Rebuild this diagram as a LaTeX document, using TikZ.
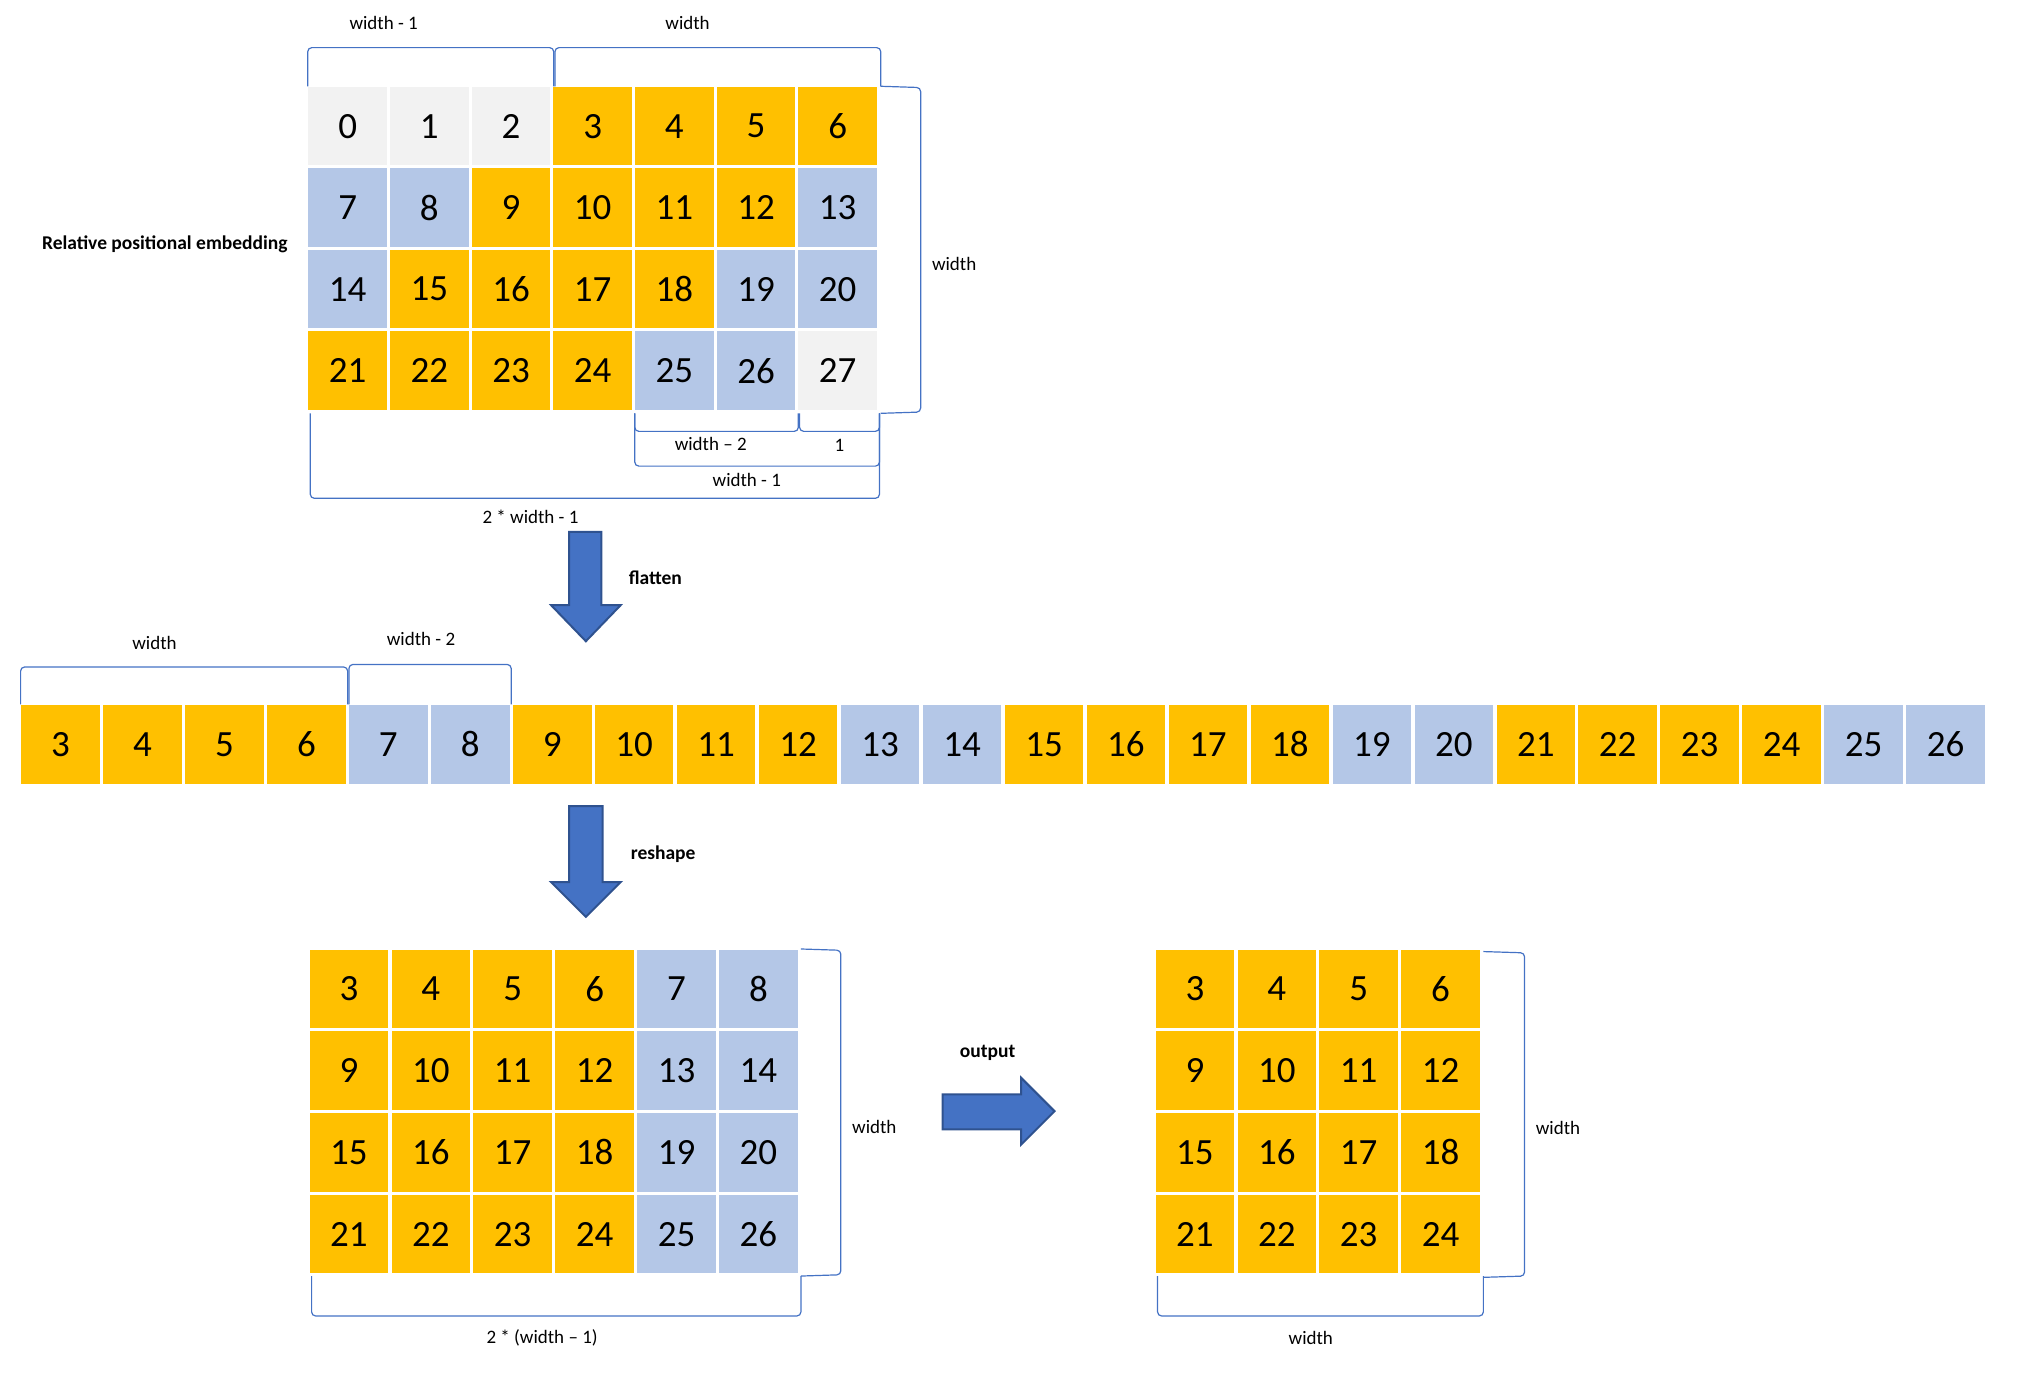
\documentclass[tikz,border=0pt]{standalone}
\usepackage{fontspec}
\setmainfont{Carlito}
\definecolor{cg}{HTML}{F2F2F2}
\definecolor{co}{HTML}{FFC000}
\definecolor{cb}{HTML}{B4C7E7}
\definecolor{bl}{HTML}{4472C4}
\definecolor{bd}{HTML}{2F528F}
\tikzset{
  cell/.style={minimum width=78.5pt,minimum height=78.5pt,inner sep=0pt,anchor=center,
    font=\fontsize{37}{40}\selectfont},
  brk/.style={draw=bl,line width=1.2pt,rounded corners=4pt},
  lbl/.style={font=\fontsize{19}{22}\selectfont,inner sep=0pt},
  blbl/.style={font=\bfseries\fontsize{19.5}{22}\selectfont,inner sep=0pt},
  bigarrow/.style={fill=bl,draw=bd,line width=2pt,line join=miter}
}
\begin{document}
\begin{tikzpicture}[x=1.2876pt,y=-1.2876pt]
\useasboundingbox (0,0) rectangle (1568,1073);
% ---------- top grid ----------
\foreach \c [count=\i from 0] in {cg,cg,cg,co,co,co,co,
                                  cb,cb,co,co,co,co,cb,
                                  cb,co,co,co,co,cb,cb,
                                  co,co,co,co,cb,cb,cg}{
  \pgfmathtruncatemacro\r{floor(\i/7)}
  \pgfmathtruncatemacro\cc{\i-7*\r}
  \node[cell,fill=\c] (t-\r-\cc) at ({270+63.43*\cc},{98+63.3*\r}) {\i};
}
\node[blbl] (rpe) at (128,190) {Relative positional embedding};
% braces around top grid
\draw[brk] (239,67) -- (239,37) -- (430,37) -- (430,67);
\draw[brk] (431,67) -- (431,37) -- (684,37) -- (684,67);
\node[lbl] (tw1) at (298,18) {width - 1};
\node[lbl] (tw) at (534,18) {width};
\draw[brk] (684,67) -- (715,68) -- (715,320) -- (684,321);
\node[lbl] (tr) at (741,205) {width};
\draw[brk] (493,321) -- (493,335) -- (620,335) -- (620,321);
\draw[brk] (621,321) -- (621,335) -- (683,335) -- (683,321);
\draw[brk] (493,321) -- (493,362) -- (683,362) -- (683,321);
\draw[brk] (241,321) -- (241,387) -- (683,387) -- (683,321);
\node[lbl] (bw2) at (552,345) {width – 2};
\node[lbl] (b1) at (652,346) {1};
\node[lbl] (bw1) at (580,373) {width - 1};
\node[lbl] (b2w) at (412,401) {2 * width - 1};
% flatten arrow
\draw[bigarrow] (442,413) -- (467,413) -- (467,470) -- (482,470) -- (455,498) -- (428,470) -- (442,470) -- cycle;
\node[blbl] (fl) at (509,449) {flatten};
% ---------- flattened row ----------
\foreach \c [count=\i from 0] in {co,co,co,co,cb,cb,co,co,co,co,cb,cb,
                                  co,co,co,co,cb,cb,co,co,co,co,cb,cb}{
  \pgfmathtruncatemacro\v{\i+3}
  \node[cell,fill=\c] (f-\i) at ({47+63.65*\i},578) {\v};
}
\draw[brk] (16,547) -- (16,518) -- (270,518) -- (270,547);
\draw[brk] (271,547) -- (271,516) -- (397,516) -- (397,547);
\node[lbl] (fw) at (120,499) {width};
\node[lbl] (fw2) at (327,496) {width - 2};
% reshape arrow
\draw[bigarrow] (442,626) -- (468,626) -- (468,685) -- (482,685) -- (455,712) -- (428,685) -- (442,685) -- cycle;
\node[blbl] (rs) at (515,663) {reshape};
% ---------- reshaped grid ----------
\foreach \r in {0,...,3}{
  \foreach \cc in {0,...,5}{
    \pgfmathtruncatemacro\v{3+6*\r+\cc}
    \ifnum\cc<4 \def\col{co}\else\def\col{cb}\fi
    \node[cell,fill=\col] (b-\r-\cc) at ({271+63.6*\cc},{768+63.5*\r}) {\v};
  }
}
\draw[brk] (622,737) -- (653,738) -- (653,990) -- (622,991);
\draw[brk] (242,991) -- (242,1022) -- (622,1022) -- (622,991);
\node[lbl] (rw) at (679,875) {width};
\node[lbl] (rb) at (421,1039) {2 * (width – 1)};
% output arrow
\draw[bigarrow] (732,850) -- (793,850) -- (793,837) -- (819,863) -- (793,889) -- (793,877) -- (732,877) -- cycle;
\node[blbl] (out) at (767,818) {output};
% ---------- output grid ----------
\foreach \r in {0,...,3}{
  \foreach \cc in {0,...,3}{
    \pgfmathtruncatemacro\v{3+6*\r+\cc}
    \node[cell,fill=co] (o-\r-\cc) at ({928+63.6*\cc},{768+63.5*\r}) {\v};
  }
}
\draw[brk] (1152,739) -- (1184,740) -- (1184,991) -- (1152,992);
\draw[brk] (899,991) -- (899,1022) -- (1152,1022) -- (1152,991);
\node[lbl] (ow) at (1210,876) {width};
\node[lbl] (ob) at (1018,1039) {width};
\end{tikzpicture}
\end{document}
